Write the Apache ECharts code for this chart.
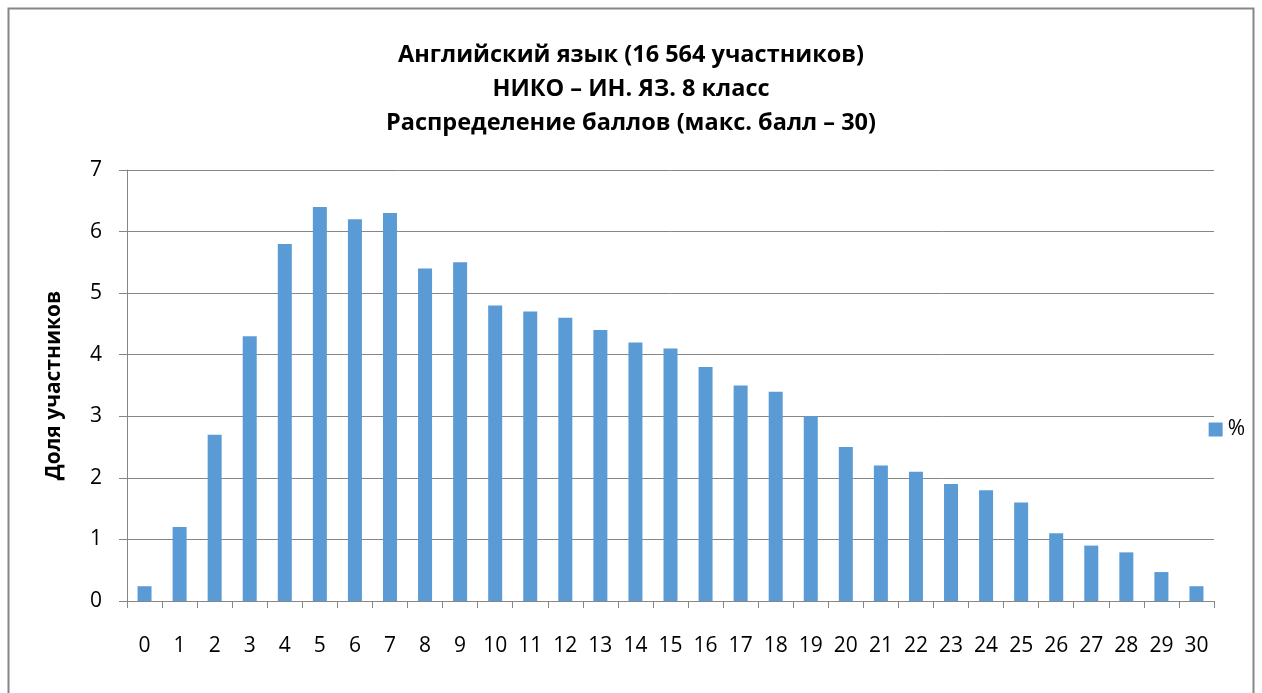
<!DOCTYPE html>
<html><head><meta charset="utf-8">
<script src="https://cdn.jsdelivr.net/npm/echarts@6/dist/echarts.min.js"></script>
<style>html,body{margin:0;padding:0;background:#fff}#c{width:1262px;height:693px}</style>
</head><body><div id="c"></div>
<script>
var categories = ['0','1','2','3','4','5','6','7','8','9','10','11','12','13','14','15','16','17','18','19','20','21','22','23','24','25','26','27','28','29','30'];
var percentValues = [0.24,1.2,2.7,4.3,5.8,6.4,6.2,6.3,5.4,5.5,4.8,4.7,4.6,4.4,4.2,4.1,3.8,3.5,3.4,3.0,2.5,2.2,2.1,1.9,1.8,1.6,1.1,0.9,0.79,0.47,0.24];
var seriesName = '%';
var titleText = 'Английский язык (16 564 участников)\nНИКО – ИН. ЯЗ. 8 класс\nРаспределение баллов (макс. балл – 30)';
var yAxisName = 'Доля участников';

var chart = echarts.init(document.getElementById('c'), null, {renderer:'canvas'});
var font = 'Open Sans';
chart.setOption({
  animation:false,
  backgroundColor:'#fff',
  graphic:[{type:'rect',shape:{x:8.5,y:8.5,width:1245,height:700},style:{fill:'none',stroke:'#868686',lineWidth:2},silent:true}],
  title:{text:titleText,left:'center',top:33,textStyle:{fontFamily:font,fontWeight:'bold',fontSize:23.5,lineHeight:34,color:'#000'}},
  legend:{data:[seriesName],right:12,top:414,itemWidth:14,itemHeight:14,itemGap:6,icon:'rect',textStyle:{fontFamily:font,fontSize:21,color:'#000'}},
  grid:{left:127,right:48,top:170,bottom:92,containLabel:false},
  xAxis:{type:'category',data:categories,
    axisLine:{lineStyle:{color:'#868686',width:1}},
    axisTick:{show:true,alignWithLabel:false,length:7,lineStyle:{color:'#868686'}},
    axisLabel:{fontFamily:font,fontSize:21,color:'#000',margin:35,interval:0}},
  yAxis:{type:'value',min:0,max:7,interval:1,name:yAxisName,nameLocation:'middle',nameGap:62,
    nameTextStyle:{fontFamily:font,fontSize:21,fontWeight:'bold',color:'#000'},
    axisLine:{show:true,lineStyle:{color:'#868686'}},
    axisTick:{show:true,length:8,lineStyle:{color:'#868686'}},
    splitLine:{lineStyle:{color:'#868686',width:1}},
    axisLabel:{fontFamily:font,fontSize:21,color:'#000',margin:25}},
  series:[{name:seriesName,type:'bar',data:percentValues,barWidth:14,itemStyle:{color:'#5b9bd5'}}]
});
</script></body></html>
